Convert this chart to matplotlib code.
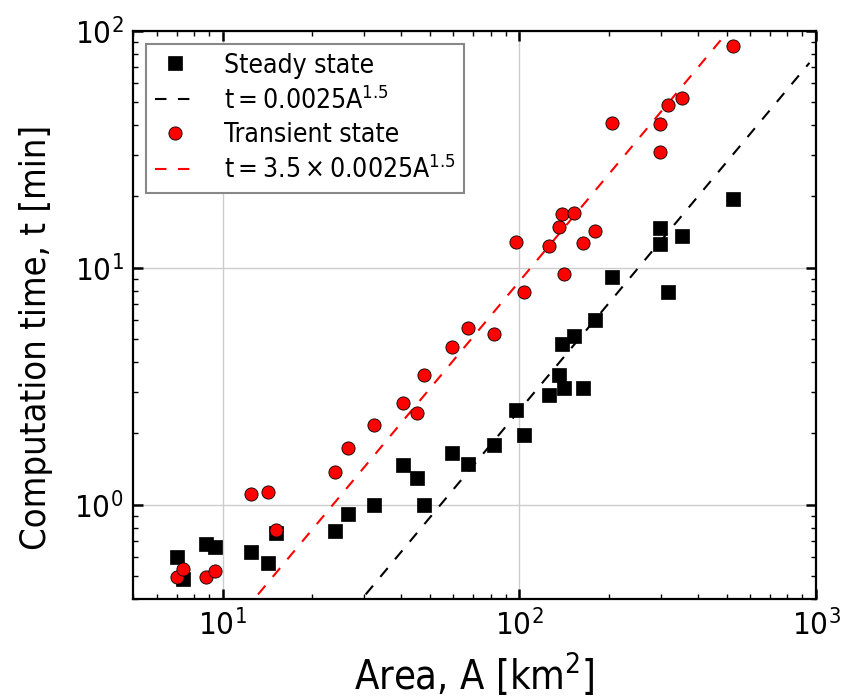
import matplotlib
matplotlib.use('Agg')
import matplotlib.pyplot as plt
import numpy as np

plt.rcParams['font.family'] = ['DejaVu Sans']
plt.rcParams['font.stretch'] = 'condensed'

# catchment area [km^2], shared by both runs
area = [7.04, 7.35, 8.77, 9.40, 12.5, 14.2, 15.2, 24.0, 26.4, 32.3,
        40.5, 45.2, 47.9, 59.3, 67.0, 81.9, 97.7, 103.4, 125.5, 135.6,
        139.3, 141.0, 153.1, 164.6, 179.3, 206.1, 298.4, 298.4, 316.0, 354.6,
        526.6]

# computation time [min]
steady = [0.604, 0.486, 0.681, 0.666, 0.634, 0.566, 0.763, 0.773, 0.915, 1.00,
          1.475, 1.30, 1.00, 1.654, 1.48, 1.78, 2.52, 1.96, 2.90, 3.52,
          4.79, 3.12, 5.16, 3.11, 6.01, 9.18, 14.76, 12.64, 7.91, 13.6,
          19.52]
transient = [0.497, 0.537, 0.497, 0.523, 1.112, 1.134, 0.783, 1.377, 1.737, 2.16,
             2.69, 2.45, 3.52, 4.63, 5.58, 5.23, 12.8, 7.87, 12.4, 14.8,
             16.9, 9.41, 17.1, 12.76, 14.25, 40.8, 40.5, 30.9, 48.4, 51.8,
             86.6]

coef = 0.0025
factor = 3.5
expo = 1.5

fig = plt.figure(figsize=(8.43, 6.99), dpi=100)
ax = fig.add_axes([0.158, 0.143, 0.81, 0.813])

A_fit = np.logspace(0, np.log10(950), 200)

ax.plot(area, steady, 's', color='black', ms=9.5, mec='black', mew=0.5,
        label='Steady state', zorder=3)
ax.plot(A_fit, coef*A_fit**expo, color='black', lw=1.5, ls=(0, (5.5, 5.5)),
        label=r'$\rm t=0.0025A^{1.5}$', zorder=2)
ax.plot(area, transient, 'o', color='red', ms=9.5, mec='black', mew=0.6,
        label='Transient state', zorder=4)
ax.plot(A_fit, factor*coef*A_fit**expo, color='red', lw=1.5, ls=(0, (5.5, 5.5)),
        label=r'$\rm t=3.5\times0.0025A^{1.5}$', zorder=2)

ax.set_xscale('log')
ax.set_yscale('log')
ax.set_xlim(5, 1000)
ax.set_ylim(0.4, 100)

ax.grid(True, which='major', color='#cccccc', lw=1)
ax.set_axisbelow(True)

for s in ax.spines.values():
    s.set_linewidth(1.6)
ax.tick_params(which='both', direction='in', top=True, right=True)
ax.tick_params(which='major', length=7, width=1.8, labelsize=22.5, pad=7)
ax.tick_params(which='minor', length=3.5, width=1)

ax.set_xlabel(r'Area, A [km$^2$]', fontsize=28.5, labelpad=8)
ax.set_ylabel('Computation time, t [min]', fontsize=26)
ax.yaxis.set_label_coords(-0.118, 0.461)

leg = ax.legend(loc='upper left', fontsize=19, fancybox=False, framealpha=1,
                handlelength=1.5, handletextpad=1.1, labelspacing=0.28,
                borderpad=0.33)
leg.get_frame().set_edgecolor('#888888')
leg.get_frame().set_linewidth(1.5)

fig.savefig('out.png', dpi=100)
